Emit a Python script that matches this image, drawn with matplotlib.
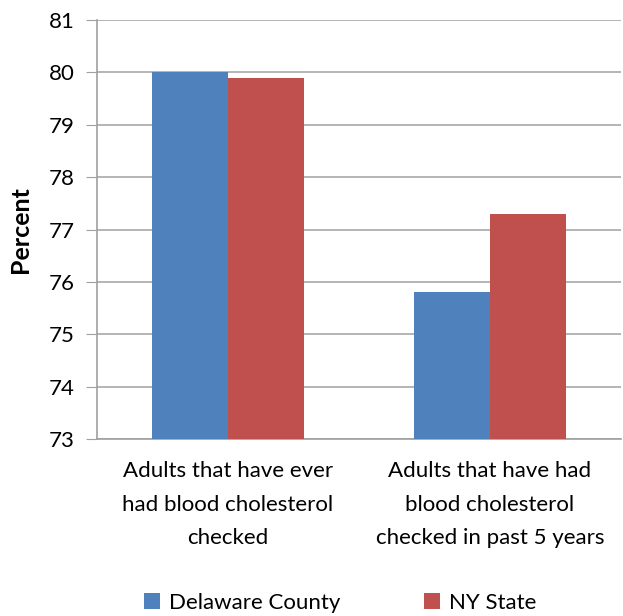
import matplotlib
matplotlib.use("Agg")
import matplotlib.pyplot as plt
import numpy as np

categories = ["Adults that have ever\nhad blood cholesterol\nchecked",
              "Adults that have had\nblood cholesterol\nchecked in past 5 years"]
series_names = ["Delaware County", "NY State"]
delaware = [80.0, 75.8]
nystate = [79.9, 77.3]
yticks = [73, 74, 75, 76, 77, 78, 79, 80, 81]

plt.rcParams['font.family'] = ['Lato', 'DejaVu Sans']

fig = plt.figure(figsize=(6.23, 6.16), dpi=100)
ax = fig.add_axes([97/623, 1-439/616, 524/623, 419/616])

x = np.arange(len(categories))
w = 0.29
ax.bar(x - w/2, delaware, w, color="#4F81BD", label=series_names[0], zorder=3)
ax.bar(x + w/2, nystate, w, color="#C0504D", label=series_names[1], zorder=3)

ax.set_ylim(73, 81)
ax.set_xlim(-0.5, 1.5)
ax.set_yticks(yticks)
ax.set_yticklabels([str(t) for t in yticks], fontsize=16)
ax.set_xticks(x)
ax.set_xticklabels(categories, fontsize=16, linespacing=1.85)
ax.tick_params(axis='x', length=0, pad=16)
ax.tick_params(axis='y', length=8, color="#A0A0A0", pad=8)
ax.grid(axis='y', color="#A8A8A8", linewidth=1.2, zorder=0)
for s in ['top', 'right']:
    ax.spines[s].set_visible(False)
for s in ['left', 'bottom']:
    ax.spines[s].set_color("#A0A0A0")
    ax.spines[s].set_linewidth(1.2)
ax.set_ylabel("Percent", fontsize=18, fontweight='bold', labelpad=12)

fig.legend(loc='center', bbox_to_anchor=(0.546, 1-603/616), ncol=2, frameon=False,
           fontsize=16, handlelength=0.7, handleheight=0.7, columnspacing=3.8, handletextpad=0.4)

fig.savefig("out.png", dpi=100)
